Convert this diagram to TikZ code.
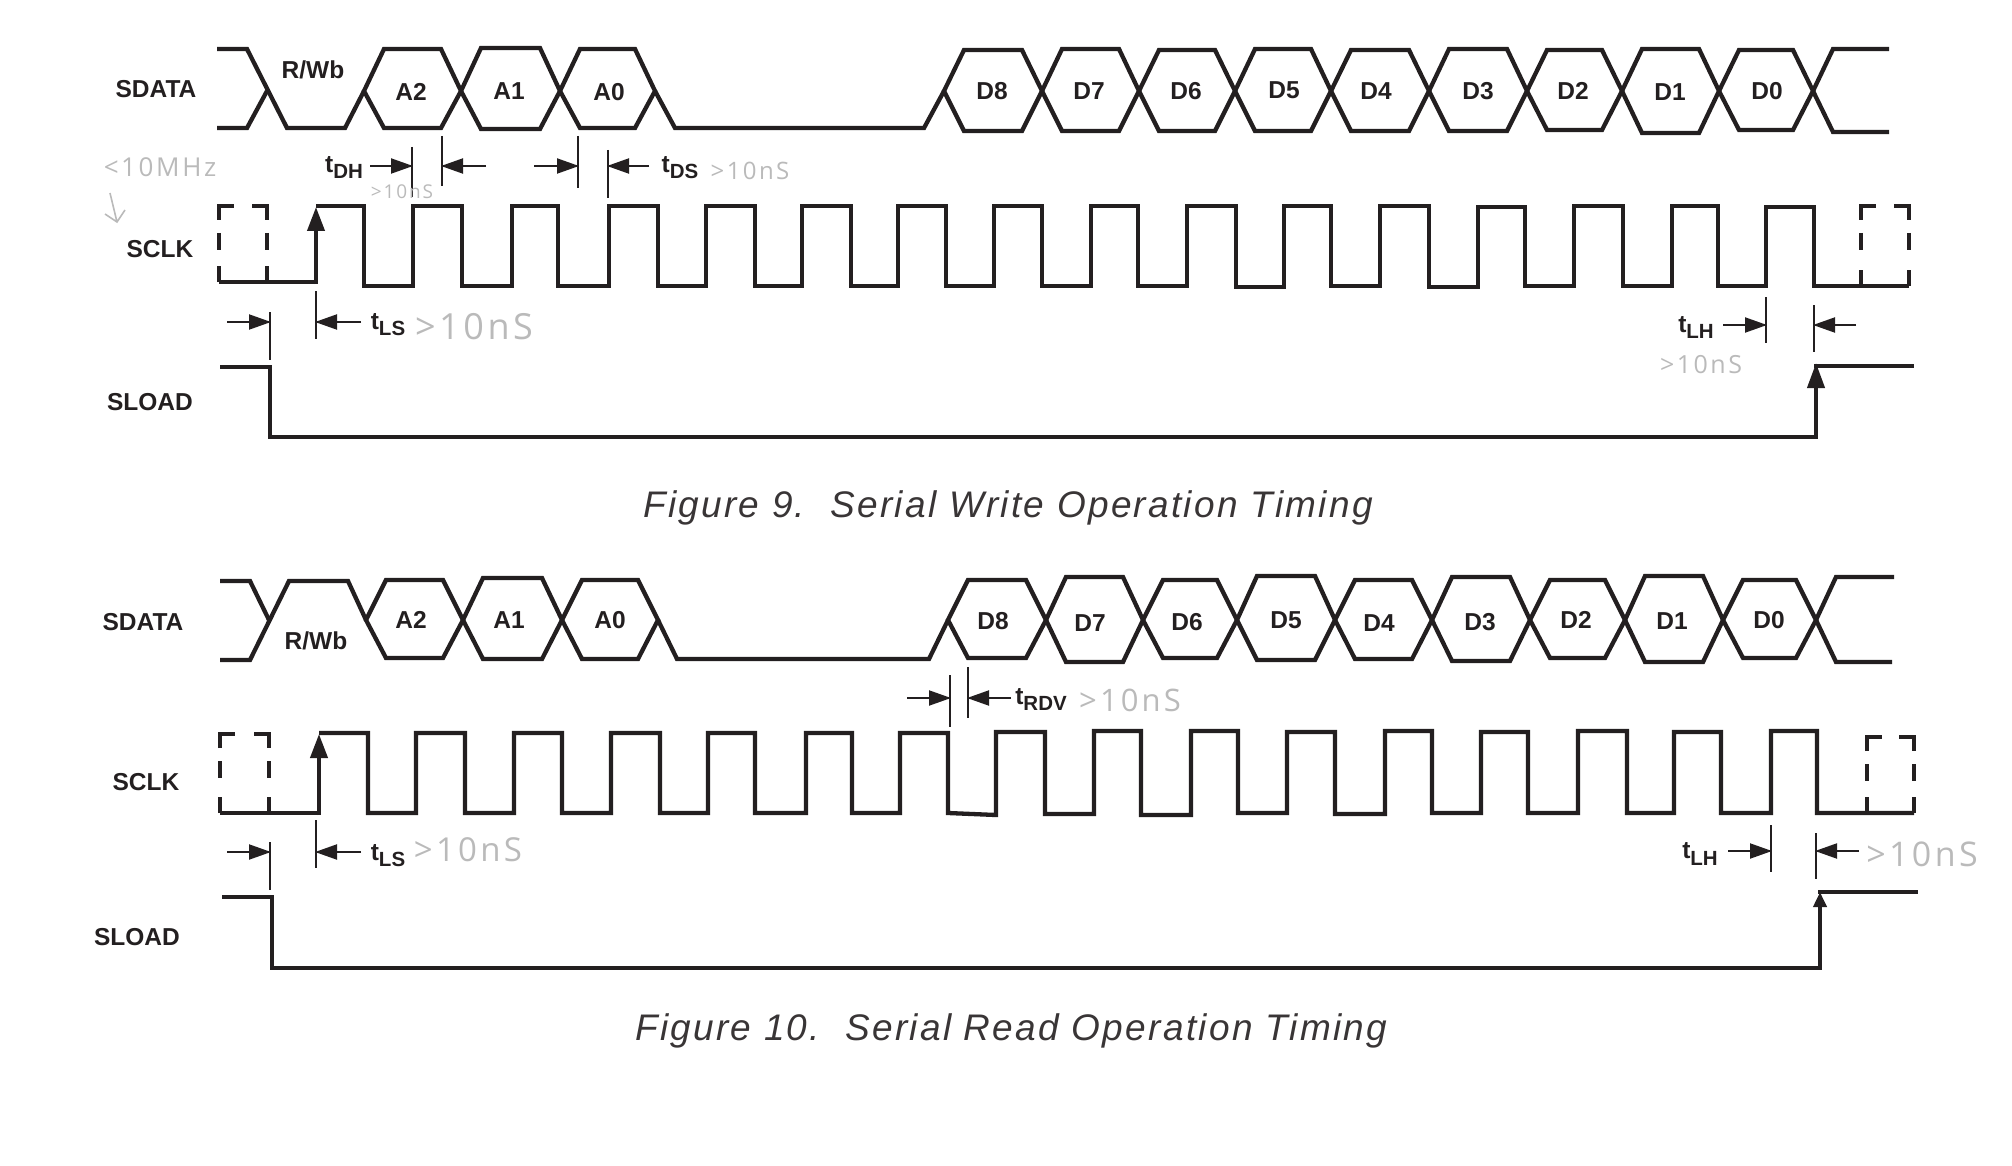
\documentclass[tikz,border=0pt]{standalone}
\usepackage{fontspec}
\setmainfont{Liberation Sans}
\newfontfamily\hwfont[LetterSpace=10]{Open Sans}
\newfontfamily\capfont[LetterSpace=6.2]{Liberation Sans}
\usetikzlibrary{arrows.meta}
\definecolor{ink}{HTML}{231F20}
\definecolor{scrib}{HTML}{BABABA}
\newcommand\sublab[2]{{\fontsize{24.5}{24}\selectfont\bfseries #1\raisebox{-6pt}{\fontsize{20.5}{20}\selectfont #2}}}
\tikzset{
  wave/.style={draw=ink,line width=4.3pt,line join=miter,miter limit=3},
  tickmark/.style={draw=ink,line width=2pt},
  dimarrow/.style={draw=ink,line width=2pt,-{Triangle[length=22pt,width=15pt]},shorten >=-1pt},
  edgeup/.style={draw=ink,line width=4pt,-{Triangle[length=#1,width=17pt]},shorten >=-1pt},
  siglabel/.style={font=\fontsize{24.5}{24}\selectfont\bfseries,text=ink,inner sep=0pt,anchor=center},
  celllabel/.style={font=\fontsize{24.5}{24}\selectfont\bfseries,text=ink,inner sep=0pt,anchor=center},
  timelabel/.style={text=ink,inner sep=0pt,anchor=center},
  caption/.style={font=\capfont\fontsize{37}{40}\selectfont\itshape,text=ink!90,inner sep=0pt,anchor=base west},
  scribble/.style={font=\hwfont,text=scrib,inner sep=0pt,anchor=center},
  scribline/.style={draw=scrib,line width=1.6pt}
}
% data cell: name, left crossing, right crossing, top, bottom, mid, text, text x, text y
\newcommand\datacell[9]{%
  \draw[wave] (#2,#6)--(#2+20,#4)--(#3-20,#4)--(#3,#6)--(#3-20,#5)--(#2+20,#5)--cycle;
  \node[celllabel] (#1) at (#8,#9) {#7};}
% time mark: name, x, y1, y2, arrow y, arrow tail x
\newcommand\timemark[6]{%
  \draw[tickmark] (#2,#3)--(#2,#4);
  \coordinate (#1) at (#2,#5);
  \coordinate (#1-tail) at (#6,#5);
  \draw[dimarrow] (#1-tail)--(#1);}
% dashed clock box: left, right, top, low
\newcommand\clockbox[4]{%
  \draw[draw=ink,line width=3.6pt,line cap=butt]
    (#1,#3+14)--(#1,#3)--(#1+15,#3)  (#2-15,#3)--(#2,#3)--(#2,#3+14)
    (#1,#3+27)--(#1,#3+44)  (#2,#3+27)--(#2,#3+44)
    (#1,#4)--(#1,#4-16)  (#2,#4)--(#2,#4-16);}
\begin{document}
\begin{tikzpicture}[x=1pt,y=-1pt]
\useasboundingbox (0,0) rectangle (2012,1166);

%%%%% Figure 9
\node[siglabel] (s9) at (156,89) {SDATA};
\node[siglabel] (c9) at (160,249) {SCLK};
\node[siglabel] (l9) at (150,402) {SLOAD};

\draw[wave] (217,49)--(247,49)--(287,128)--(345,128)--(364,91);
\draw[wave] (217,128)--(247,128)--(267,91);
\node[celllabel] (rw9) at (313,70) {R/Wb};
\datacell{a2n}{364}{461}{49}{128}{91}{A2}{411}{92}
\datacell{a1n}{461}{560}{48}{129}{91}{A1}{509}{91}
\datacell{a0n}{560}{655}{49}{128}{91}{A0}{609}{92}
\draw[wave] (655,91)--(675,128)--(924,128)--(944,91);
\datacell{d8n}{944}{1042}{50}{131}{91}{D8}{992}{91}
\datacell{d7n}{1042}{1139}{49}{131}{91}{D7}{1089}{91}
\datacell{d6n}{1139}{1235}{50}{131}{91}{D6}{1186}{91}
\datacell{d5n}{1235}{1331}{49}{131}{91}{D5}{1284}{90}
\datacell{d4n}{1331}{1429}{50}{131}{91}{D4}{1376}{91}
\datacell{d3n}{1429}{1527}{49}{131}{91}{D3}{1478}{91}
\datacell{d2n}{1527}{1622}{50}{130}{91}{D2}{1573}{91}
\datacell{d1n}{1622}{1719}{49}{133}{91}{D1}{1670}{92}
\datacell{d0n}{1719}{1813}{50}{130}{91}{D0}{1767}{91}
\draw[wave] (1813,91)--(1833,49)--(1889,49);
\draw[wave] (1813,91)--(1833,132)--(1889,132);

% clock
\draw[wave] (219,282)--(316,282);
\draw[edgeup=24pt] (316,284)--(316,208);
\draw[wave] (316,206)--(364,206)--(364,286)--(413,286)--(413,206)--(462,206)--(462,286)--(512,286)--(512,206)--(558,206)--(558,286)--(609,286)--(609,206)--(658,206)--(658,286)--(706,286)--(706,206)--(755,206)--(755,286)--(802,286)--(802,206)--(851,206)--(851,286)--(898,286)--(898,206)--(946,206)--(946,286)--(994,286)--(994,206)--(1042,206)--(1042,286)--(1091,286)--(1091,206)--(1138,206)--(1138,286)--(1187,286)--(1187,206)--(1236,206)--(1236,287)--(1284,287)--(1284,206)--(1331,206)--(1331,286)--(1380,286)--(1380,206)--(1429,206)--(1429,287)--(1478,287)--(1478,207)--(1525,207)--(1525,286)--(1574,286)--(1574,206)--(1623,206)--(1623,286)--(1672,286)--(1672,206)--(1718,206)--(1718,286)--(1766,286)--(1766,207)--(1814,207)--(1814,286)--(1909,286);
\clockbox{219}{267}{206}{282}
\clockbox{1861}{1909}{206}{286}

% sload
\draw[wave] (220,367)--(270,367)--(270,437)--(1816,437)--(1816,405);
\draw[edgeup=25pt] (1816,420)--(1816,364);
\draw[wave] (1814,366)--(1914,366);

% timing marks
\timemark{dh1}{412}{147}{197}{166}{370}
\timemark{dh2}{442}{136}{186}{166}{486}
\timemark{ds1}{578}{136}{188}{166}{534}
\timemark{ds2}{608}{150}{198}{166}{649}
\node[timelabel] (tdh) at (344,168) {\sublab{t}{DH}};
\node[timelabel] (tds) at (680,168) {\sublab{t}{DS}};
\timemark{ls1}{270}{312}{360}{322}{227}
\timemark{ls2}{316}{291}{339}{322}{361}
\node[timelabel] (tls9) at (388,325) {\sublab{t}{LS}};
\timemark{lh1}{1766}{297}{343}{325}{1723}
\timemark{lh2}{1814}{305}{352}{325}{1856}
\node[timelabel] (tlh9) at (1696,328) {\sublab{t}{LH}};

% handwritten notes
\node[scribble,font=\hwfont\fontsize{26}{28}\selectfont] (hw1) at (160,167) {<10MHz};
\draw[scribline] (110,193)--(117,222) (105,214)--(117,222)--(125,210);
\node[scribble,font=\hwfont\fontsize{19}{20}\selectfont] (hw2) at (402,192) {>10nS};
\node[scribble,font=\hwfont\fontsize{24}{26}\selectfont] (hw3) at (750,171) {>10nS};
\node[scribble,font=\hwfont\fontsize{36}{38}\selectfont] (hw4) at (474,327) {>10nS};
\node[scribble,font=\hwfont\fontsize{25}{26}\selectfont] (hw5) at (1701,365) {>10nS};

\node[caption] (cap9) at (643,517) {Figure 9.\ \ Serial Write Operation Timing};

%%%%% Figure 10
\node[siglabel] (s10) at (143,622) {SDATA};
\node[siglabel] (c10) at (146,782) {SCLK};
\node[siglabel] (l10) at (137,937) {SLOAD};

\draw[wave] (220,581)--(250,581)--(269,620);
\draw[wave] (220,660)--(250,660)--(289,581)--(348,581)--(366,620);
\node[celllabel] (rw10) at (316,641) {R/Wb};
\datacell{a2m}{366}{463}{580}{658}{620}{A2}{411}{620}
\datacell{a1m}{463}{562}{578}{659}{620}{A1}{509}{620}
\datacell{a0m}{562}{658}{580}{659}{620}{A0}{610}{620}
\draw[wave] (658,620)--(677,659)--(929,659)--(948,620);
\datacell{d8m}{948}{1046}{580}{658}{620}{D8}{993}{621}
\datacell{d7m}{1046}{1143}{577}{662}{620}{D7}{1090}{623}
\datacell{d6m}{1143}{1237}{580}{658}{620}{D6}{1187}{622}
\datacell{d5m}{1237}{1335}{576}{660}{620}{D5}{1286}{620}
\datacell{d4m}{1335}{1432}{580}{659}{620}{D4}{1379}{623}
\datacell{d3m}{1432}{1530}{577}{661}{620}{D3}{1480}{622}
\datacell{d2m}{1530}{1625}{580}{658}{620}{D2}{1576}{620}
\datacell{d1m}{1625}{1723}{576}{662}{620}{D1}{1672}{621}
\datacell{d0m}{1723}{1816}{580}{658}{620}{D0}{1769}{620}
\draw[wave] (1816,620)--(1836,577)--(1894,577);
\draw[wave] (1816,620)--(1836,662)--(1892,662);

\draw[wave] (220,813)--(319,813);
\draw[edgeup=24pt] (319,815)--(319,735);
\draw[wave] (319,733)--(368,733)--(368,813)--(416,813)--(416,733)--(465,733)--(465,813)--(514,813)--(514,733)--(562,733)--(562,813)--(611,813)--(611,733)--(660,733)--(660,813)--(708,813)--(708,733)--(755,733)--(755,813)--(806,813)--(806,733)--(852,733)--(852,813)--(900,813)--(900,733)--(948,733)--(948,813)--(996,815)--(996,732)--(1045,732)--(1045,814)--(1094,814)--(1094,731)--(1141,731)--(1141,815)--(1191,815)--(1191,731)--(1238,731)--(1238,813)--(1287,813)--(1287,732)--(1335,732)--(1335,814)--(1385,814)--(1385,731)--(1432,731)--(1432,813)--(1481,813)--(1481,732)--(1528,732)--(1528,813)--(1578,813)--(1578,731)--(1627,731)--(1627,813)--(1674,813)--(1674,732)--(1721,732)--(1721,813)--(1771,813)--(1771,731)--(1817,731)--(1817,813)--(1914,813);
\clockbox{220}{269}{734}{813}
\clockbox{1867}{1914}{737}{813}

\draw[wave] (222,897)--(272,897)--(272,968)--(1820,968)--(1820,920);
\draw[edgeup=15pt,-{Triangle[length=15pt,width=13pt]}] (1820,930)--(1820,893);
\draw[wave] (1818,892)--(1918,892);

\timemark{rdv1}{950}{675}{727}{698}{907}
\timemark{rdv2}{968}{667}{718}{698}{1011}
\node[timelabel] (trdv) at (1041,700) {\sublab{t}{RDV}};
\timemark{ls3}{270}{842}{890}{852}{227}
\timemark{ls4}{316}{820}{868}{852}{361}
\node[timelabel] (tls10) at (388,856) {\sublab{t}{LS}};
\timemark{lh3}{1771}{825}{872}{851}{1728}
\timemark{lh4}{1816}{833}{879}{851}{1859}
\node[timelabel] (tlh10) at (1700,854) {\sublab{t}{LH}};

\node[scribble,font=\hwfont\fontsize{33}{36}\selectfont] (hw6) at (468,850) {>10nS};
\node[scribble,font=\hwfont\fontsize{31}{34}\selectfont] (hw7) at (1130,700) {>10nS};
\node[scribble,font=\hwfont\fontsize{34}{36}\selectfont] (hw8) at (1922,854) {>10nS};

\node[caption] (cap10) at (635,1040) {Figure 10.\ \ Serial Read Operation Timing};
\end{tikzpicture}
\end{document}
